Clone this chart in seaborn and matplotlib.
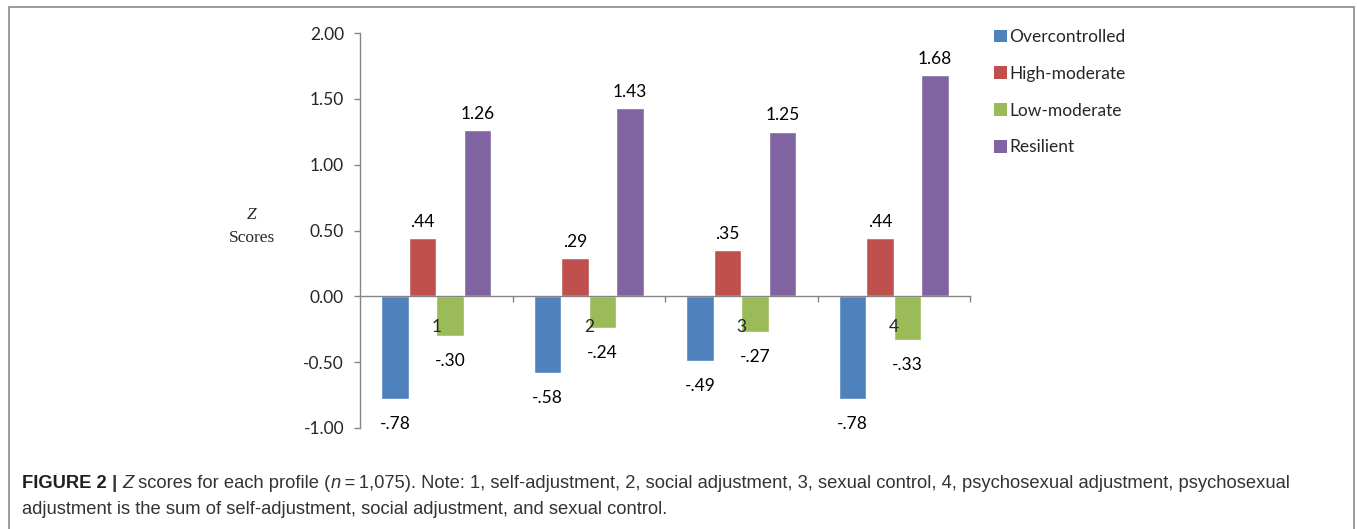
import matplotlib
matplotlib.use("Agg")
import matplotlib.pyplot as plt
import seaborn as sns
import pandas as pd
from matplotlib.patches import Rectangle, Patch

categories = ["1", "2", "3", "4"]
profiles = ["Overcontrolled", "High-moderate", "Low-moderate", "Resilient"]
overcontrolled = [-0.78, -0.58, -0.49, -0.78]
high_moderate = [0.44, 0.29, 0.35, 0.44]
low_moderate = [-0.30, -0.24, -0.27, -0.33]
resilient = [1.26, 1.43, 1.25, 1.68]
y_ticks = [-1.0, -0.5, 0.0, 0.5, 1.0, 1.5, 2.0]
colors = ["#4F81BD", "#C0504D", "#9BBB59", "#8064A2"]

series = [overcontrolled, high_moderate, low_moderate, resilient]
rows = []
for p, vals in zip(profiles, series):
    for c, v in zip(categories, vals):
        rows.append({"cat": c, "profile": p, "z": v})
df = pd.DataFrame(rows)

sns.set_style("white")
plt.rcParams["font.family"] = ["Lato", "DejaVu Sans"]

W, H = 1357, 529
fig = plt.figure(figsize=(W / 100, H / 100), dpi=100)
ax = fig.add_axes([360 / W, 1 - 428 / H, (970 - 360) / W, (428 - 33) / H])

sns.barplot(data=df, x="cat", y="z", hue="profile", hue_order=profiles,
            order=categories, palette=colors, width=0.72, ax=ax,
            legend=False, errorbar=None, saturation=1)
ax.set_axisbelow(False)

def fmt(v):
    s = f"{v:.2f}"
    if abs(v) < 1:
        s = s.replace("0.", ".")
    return s

for cont in ax.containers:
    hts = [b.get_height() for b in cont]
    pad = 12.5 if hts[0] < 0 else 6
    ax.bar_label(cont, labels=[fmt(h) for h in hts],
                 padding=pad, fontsize=12.5, color="black")

ax.set_ylim(-1, 2)
ax.set_xlim(-0.5, 3.5)
ax.set_yticks(y_ticks)
ax.set_yticklabels([f"{t:.2f}" for t in y_ticks])
ax.set_xlabel("")
ax.set_ylabel("")

spine_c = "#868686"
for s in ["top", "right"]:
    ax.spines[s].set_visible(False)
ax.spines["bottom"].set_position(("data", 0))
ax.spines["bottom"].set_color(spine_c)
ax.spines["left"].set_color(spine_c)
ax.spines["bottom"].set_linewidth(1.0)
ax.spines["left"].set_linewidth(1.0)

ax.tick_params(axis="y", direction="out", length=4.5, width=1, color=spine_c,
               pad=7, labelsize=12.5, left=True)
ax.tick_params(axis="x", which="major", length=0, pad=16, labelsize=12.5)
ax.set_xticks([0.5, 1.5, 2.5, 3.5], minor=True)
ax.tick_params(axis="x", which="minor", direction="out", length=4.5, width=1,
               color=spine_c, bottom=True)

handles = [Patch(facecolor=c, edgecolor="none") for c in colors]
fig.legend(handles, profiles, loc="upper left",
           bbox_to_anchor=(987 / W, 1 - 22 / H), frameon=False,
           fontsize=12.5, handlelength=0.75, handleheight=0.75,
           handletextpad=0.15, labelspacing=1.2, borderaxespad=0)

fig.text(252 / W, 1 - 215 / H, "Z", family="Liberation Serif", style="italic",
         fontsize=12.5, ha="center", va="center")
fig.text(252 / W, 1 - 238 / H, "Scores", family="Liberation Serif",
         fontsize=12.5, ha="center", va="center")

fig.patches.append(Rectangle((9 / W, -0.1), (1354 - 9) / W, 1 - 7 / H + 0.1,
                             transform=fig.transFigure, fill=False,
                             edgecolor="#8a8a8a", linewidth=1.2))

cap_font = ["Liberation Sans Narrow", "Liberation Sans", "DejaVu Sans"]
cap_c = "#333333"
cs = 13.2
t = fig.text(22 / W, 1 - 484 / H, "FIGURE 2", family=cap_font, weight="bold",
             fontsize=cs, color="#231F20", va="center")
pieces = [(" | ", "bold", "normal"), ("Z", "normal", "italic"),
          (" scores for each profile (", "normal", "normal"),
          ("n", "normal", "italic"),
          ("\u2009=\u20091,075). Note: 1, self-adjustment, 2, social adjustment, 3, sexual control, 4, psychosexual adjustment, psychosexual",
           "normal", "normal")]
prev = t
for txt, w, st in pieces:
    prev = ax.annotate(txt, xy=(1, 0.5), xycoords=prev, va="center", ha="left",
                       family=cap_font, weight=w, style=st, fontsize=cs,
                       color=cap_c, annotation_clip=False)
fig.text(22 / W, 1 - 509 / H,
         "adjustment is the sum of self-adjustment, social adjustment, and sexual control.",
         family=cap_font, fontsize=cs, color=cap_c, va="center")

fig.savefig("out.png", dpi=100)
